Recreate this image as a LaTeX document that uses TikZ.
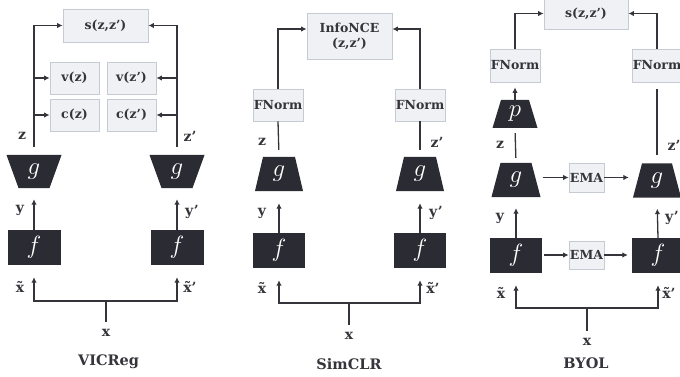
\documentclass[tikz,border=0pt]{standalone}
\usepackage{fontspec}
\setmainfont{DejaVu Serif}
\usetikzlibrary{arrows.meta,calc}

\definecolor{ink}{HTML}{34343A}
\definecolor{dark}{HTML}{2B2B33}
\definecolor{boxfill}{HTML}{EFF1F5}
\definecolor{boxline}{HTML}{C6CAD2}

% #1 name, #2 x, #3 y, #4 top width, #5 bottom width, #6 height, #7 letter
\newcommand\trapnode[7]{%
  \fill[dark] ({#2-(#4)/2},{#3-(#6)/2}) -- ({#2+(#4)/2},{#3-(#6)/2})
    -- ({#2+(#5)/2},{#3+(#6)/2}) -- ({#2-(#5)/2},{#3+(#6)/2}) -- cycle;
  \node[inner sep=0, minimum width={max(#4,#5)}, minimum height=#6,
        text=white, font=\fontsize{24}{24}\selectfont] (#1) at (#2,#3) {$#7$};
}

\tikzset{
  lbox/.style={draw=boxline, fill=boxfill, line width=0.8pt, text=ink,
    font=\bfseries\fontsize{12.5}{15}\selectfont, inner sep=0, align=center},
  dbox/.style={fill=dark, inner sep=0, text=white,
    font=\fontsize{24}{24}\selectfont},
  conn/.style={draw=ink, line width=1.3pt},
  arr/.style={conn, -{Latex[length=5.5pt,width=5.5pt]}},
  lbl/.style={text=ink, font=\bfseries\fontsize{14}{16}\selectfont, inner sep=0},
  title/.style={text=ink, font=\bfseries\fontsize{14.5}{17}\selectfont, inner sep=0},
}

\begin{document}
\begin{tikzpicture}[x=1pt, y=-1pt]
\useasboundingbox (0,0) rectangle (680,377);
\clip (0,0) rectangle (680,377);

% ---------------- VICReg ----------------
\node[lbox, minimum width=85, minimum height=33] (s1) at (105.5,25.5) {s(z,z')};
\node[lbox, minimum width=49, minimum height=32] (v1) at (74.5,78) {v(z)};
\node[lbox, minimum width=49, minimum height=32] (c1) at (74.5,115) {c(z)};
\node[lbox, minimum width=49, minimum height=32] (v2) at (131.5,78) {v(z')};
\node[lbox, minimum width=49, minimum height=32] (c2) at (131.5,115) {c(z')};
\trapnode{g1}{34}{171.5}{55}{31}{33}{g}
\trapnode{g2}{177}{171.5}{55}{31}{33}{g}
\node[dbox, minimum width=53, minimum height=35] (f1) at (34,247.5) {$f$};
\node[dbox, minimum width=53, minimum height=35] (f2) at (177,247.5) {$f$};

\draw[arr, shorten <=8] (g1.north) |- (s1.west);
\draw[arr] (g1.north |- v1.west) -- (v1.west);
\draw[arr] (g1.north |- c1.west) -- (c1.west);
\draw[arr, shorten <=8] (g2.north) |- (s1.east);
\draw[arr] (g2.north |- v2.east) -- (v2.east);
\draw[arr] (g2.north |- c2.east) -- (c2.east);
\draw[arr, shorten >=11] (f1.north) -- (g1.south);
\draw[arr, shorten >=11] (f2.north) -- (g2.south);

\node[lbl] (xa) at (106,333) {x};
\coordinate (ja) at (106,301);
\draw[conn, shorten <=7] (xa.north) -- (ja);
\draw[arr, shorten >=12] (ja) -| (f1.south);
\draw[arr, shorten >=12] (ja) -| (f2.south);

\node[lbl] (za) at (22,136) {z};
\node[lbl] (za2) at (190,136) {z'};
\node[lbl] (ya) at (20,210) {y};
\node[lbl] (ya2) at (192,212) {y'};
\node[lbl] (xta) at (20,287) {\~{x}};
\node[lbl] (xta2) at (190,287) {\~{x}'};
\node[title] (ta) at (108.5,362) {VICReg};

% ---------------- SimCLR ----------------
\node[lbox, minimum width=85, minimum height=46] (s2) at (349.5,36) {InfoNCE\\(z,z')};
\node[lbox, minimum width=50, minimum height=32] (n1) at (278,105) {FNorm};
\node[lbox, minimum width=50, minimum height=32] (n2) at (420,105) {FNorm};
\trapnode{g3}{279}{174}{32}{48}{34}{g}
\trapnode{g4}{420}{174}{32}{48}{34}{g}
\node[dbox, minimum width=52, minimum height=35] (f3) at (279,250.5) {$f$};
\node[dbox, minimum width=52, minimum height=35] (f4) at (420,250.5) {$f$};

\draw[arr] (n1.north) |- ([yshift=7pt]s2.west);
\draw[arr] (n2.north) |- ([yshift=7pt]s2.east);
\draw[conn, shorten <=7] (g3.north) -- (n1.south);
\draw[conn, shorten <=7] (g4.north) -- (n2.south);
\draw[arr, shorten >=12] (f3.north) -- (g3.south);
\draw[arr, shorten >=12] (f4.north) -- (g4.south);

\node[lbl] (xb) at (349,336) {x};
\coordinate (jb) at (349,303);
\draw[conn, shorten <=7] (xb.north) -- (jb);
\draw[arr, shorten >=12] (jb) -| (f3.south);
\draw[arr, shorten >=12] (jb) -| (f4.south);

\node[lbl] (zb) at (262,142) {z};
\node[lbl] (zb2) at (437,142) {z'};
\node[lbl] (yb) at (262,213) {y};
\node[lbl] (yb2) at (436,213) {y'};
\node[lbl] (xtb) at (262,288) {\~{x}};
\node[lbl] (xtb2) at (433,288) {\~{x}'};
\node[title] (tb) at (349,364) {SimCLR};

% ---------------- BYOL ----------------
\node[lbox, minimum width=84, minimum height=32] (s3) at (586,13.5) {s(z,z')};
\node[lbox, minimum width=50, minimum height=33] (n3) at (515,65.5) {FNorm};
\node[lbox, minimum width=50, minimum height=33] (n4) at (657,65.5) {FNorm};
\trapnode{p1}{515}{114}{28}{45}{28}{p}
\trapnode{g5}{516}{180}{31}{49}{34}{g}
\trapnode{g6}{657}{180.5}{30}{48}{34}{g}
\node[lbox, minimum width=35, minimum height=29] (e1) at (586.5,177.5) {EMA};
\node[lbox, minimum width=35, minimum height=28] (e2) at (586.5,255) {EMA};
\node[dbox, minimum width=52, minimum height=35] (f5) at (516,255.5) {$f$};
\node[dbox, minimum width=52, minimum height=35] (f6) at (658,255.5) {$f$};

\draw[arr] (n3.north) |- (s3.west);
\draw[arr] (n4.north) |- (s3.east);
\draw[arr, shorten >=5] (p1.north) -- (n3.south);
\draw[conn, shorten <=5, shorten >=5] (g5.north) -- (p1.south);
\draw[conn, shorten <=8, shorten >=7] (g6.north) -- (n4.south);
\draw[arr, shorten <=2] (e1.west -| g5.east) -- (e1.west);
\draw[arr, shorten >=4] (e1.east) -- (e1.east -| g6.west);
\draw[arr, shorten <=2] (e2.west -| f5.east) -- (e2.west);
\draw[arr, shorten >=4] (e2.east) -- (e2.east -| f6.west);
\draw[arr, shorten >=11] (f5.north) -- (g5.south);
\draw[arr, shorten >=11] (f6.north) -- (g6.south);

\node[lbl] (xc) at (587,342) {x};
\coordinate (jc) at (587,308);
\draw[conn, shorten <=7] (xc.north) -- (jc);
\draw[arr, shorten >=12] (jc) -| (f5.south);
\draw[arr, shorten >=12] (jc) -| (f6.south);

\node[lbl] (zc) at (500,145) {z};
\node[lbl] (zc2) at (674,145) {z'};
\node[lbl] (yc) at (500,218) {y};
\node[lbl] (yc2) at (672,218) {y'};
\node[lbl] (xtc) at (501,293) {\~{x}};
\node[lbl] (xtc2) at (669,293) {\~{x}'};
\node[title] (tc) at (586,363) {BYOL};
\end{tikzpicture}
\end{document}
